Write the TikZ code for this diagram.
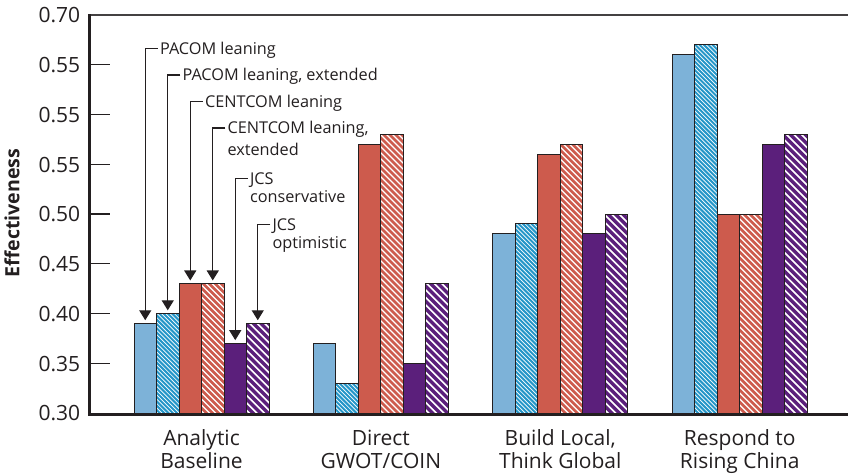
\documentclass[tikz,border=0pt]{standalone}
\usepackage{fontspec}
\setmainfont{Open Sans}
\usetikzlibrary{arrows.meta}

\definecolor{ink}{HTML}{231F20}
\definecolor{ltblue}{HTML}{7DB2D8}
\definecolor{hatchblue}{HTML}{2596C8}
\definecolor{brick}{HTML}{CD5B4D}
\definecolor{plum}{HTML}{5B1F7B}

% value -> vertical position (0.30 sits on the base line at 413)
\newcommand\valtoy[1]{\pgfmathsetmacro\ytop{413-(#1-0.30)*995}}

% solid bar: left x, value, colour, name of its top-centre coordinate
\newcommand\solidbar[4]{%
  \valtoy{#2}%
  \fill[#3] (#1,\ytop) rectangle (#1+22.5,413);
  \draw[barline] (#1,413) rectangle (#1+22.5,\ytop);
  \coordinate (#4) at (#1+11.25,\ytop);
}

% striped bar: left x, value, stripe colour, stripe period, stripe width, name
\newcommand\stripebar[6]{%
  \valtoy{#2}%
  \pgfmathsetmacro\hh{413-\ytop}%
  \pgfmathsetmacro\sfirst{#1-\hh-2}%
  \pgfmathsetmacro\ssecond{#1-\hh-2+#4}%
  \pgfmathsetmacro\slast{#1+24}%
  \begin{scope}
    \clip (#1,\ytop) rectangle (#1+22.5,413);
    \fill[white] (#1,\ytop) rectangle (#1+22.5,413);
    \foreach \sx in {\sfirst,\ssecond,...,\slast}
      \draw[#3, line width=#5] (\sx,\ytop-1) -- ++(\hh+4,\hh+4);
  \end{scope}
  \draw[barline] (#1,413) rectangle (#1+22.5,\ytop);
  \coordinate (#6) at (#1+11.25,\ytop);
}

\tikzset{
  barline/.style={draw=ink, line width=0.75pt},
  ticklbl/.style={font=\fontsize{15.75}{18}\selectfont, text=ink, inner sep=0pt},
  catlbl/.style={font=\fontsize{15.75}{17.25}\selectfont, text=ink, inner sep=0pt, align=center, anchor=base},
  note/.style={font=\fontsize{12.2}{14}\selectfont, text=ink, inner xsep=1.5pt, inner ysep=0pt, align=left, anchor=base west},
  pointer/.style={draw=ink, line width=0.95pt, -{Triangle[width=9pt,length=7.5pt]}},
}

\begin{document}
\begin{tikzpicture}[x=0.75pt, y=-0.75pt]
\useasboundingbox (0,0) rectangle (848,474);

% bars: group index, then the six scenario values
\foreach \g/\vA/\vB/\vC/\vD/\vE/\vF in {
    0/0.39/0.40/0.43/0.43/0.37/0.39,
    1/0.37/0.33/0.57/0.58/0.35/0.43,
    2/0.48/0.49/0.56/0.57/0.48/0.50,
    3/0.66/0.67/0.50/0.50/0.57/0.58} {
  \pgfmathsetmacro\gx{134+179.4*\g}
  \solidbar{\gx}{\vA}{ltblue}{b\g1}
  \stripebar{\gx+22.5}{\vB}{hatchblue}{4.3}{1.5pt}{b\g2}
  \solidbar{\gx+45}{\vC}{brick}{b\g3}
  \stripebar{\gx+67.5}{\vD}{brick}{6}{2pt}{b\g4}
  \solidbar{\gx+90}{\vE}{plum}{b\g5}
  \stripebar{\gx+112.5}{\vF}{plum}{7.5}{2.5pt}{b\g6}
}

% frame: top rule, left axis, base line, ticks
\draw[ink!85, line width=1.1pt] (89,15) -- (848,15);
\foreach \k in {1,...,7}
  \draw[ink, line width=1.1pt] (89,15+49.75*\k) -- (110,15+49.75*\k);
\draw[ink, line width=2.7pt] (89.5,14.2) -- (89.5,415.5);
\draw[ink, line width=2.7pt] (88,414.3) -- (848,414.3);

% axis values
\foreach \k/\t in {0/0.70,1/0.55,2/0.55,3/0.55,4/0.50,5/0.45,6/0.40,7/0.35,8/0.30}
  \node[ticklbl, anchor=east] (tick\k) at (80.5,15.5+49.75*\k) {\t};

\node[font=\bfseries\fontsize{14.7}{16}\selectfont, text=ink, rotate=90, inner sep=0pt]
  (ytitle) at (12,213) {Effectiveness};

% scenario names under the groups (anchored on the second line's baseline)
\node[catlbl] (c0) at (201.5,468) {Analytic\\Baseline};
\node[catlbl] (c1) at (380.9,468) {Direct\\GWOT/COIN};
\node[catlbl] (c2) at (560.3,468) {Build Local,\\Think Global};
\node[catlbl] (c3) at (739.7,468) {Respond to\\Rising China};

% call-outs naming the six cases (anchored on their last line's baseline)
\node[note] (n1) at (157.75,54.5) {PACOM leaning};
\node[note] (n2) at (180.25,81) {PACOM leaning, extended};
\node[note] (n3) at (202.75,107.5) {CENTCOM leaning};
\node[note] (n4) at (225.25,155) {CENTCOM leaning,\\[1.8pt]extended};
\node[note] (n5) at (247.75,202.7) {JCS\\conservative};
\node[note] (n6) at (270.25,248.7) {JCS\\optimistic};

\draw[pointer] ([yshift=4.4pt]n1.base west) -| ([yshift=2.4pt]b01);
\draw[pointer] ([yshift=4.4pt]n2.base west) -| ([yshift=2.4pt]b02);
\draw[pointer] ([yshift=4.4pt]n3.base west) -| ([yshift=2.4pt]b03);
\draw[pointer] ([yshift=20.2pt]n4.base west) -| ([yshift=2.4pt]b04);
\draw[pointer] ([yshift=18.4pt]n5.base west) -| ([yshift=2.4pt]b05);
\draw[pointer] ([yshift=18.4pt]n6.base west) -| ([yshift=2.4pt]b06);
\end{tikzpicture}
\end{document}
